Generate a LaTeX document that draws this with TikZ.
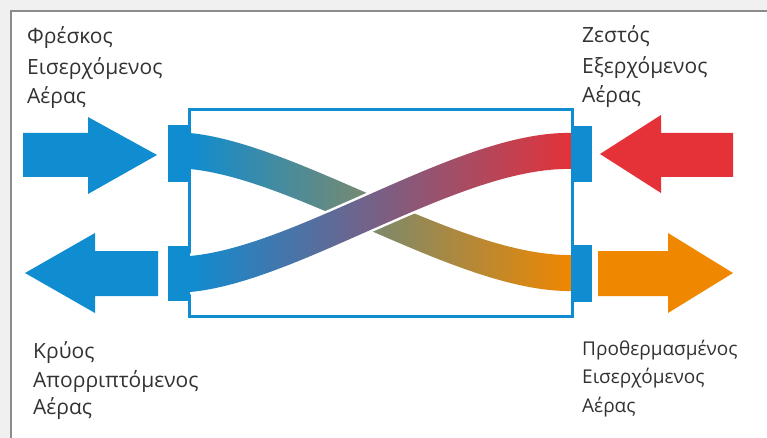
\documentclass[tikz,border=0pt]{standalone}
\usepackage{fontspec}
\setmainfont{Open Sans}
\definecolor{flowblue}{RGB}{16,140,208}
\definecolor{flowred}{RGB}{228,50,56}
\definecolor{floworange}{RGB}{240,135,0}
\definecolor{txtgray}{RGB}{50,50,50}
\definecolor{bggray}{RGB}{240,240,240}
\definecolor{framegray}{RGB}{140,140,140}
\begin{document}
\begin{tikzpicture}[x=1pt,y=-1pt,
  lbl/.style={anchor=base west, inner sep=0pt, font=\fontsize{21}{25}\selectfont, text=txtgray},
  lblsmall/.style={lbl, font=\fontsize{19}{23}\selectfont},
  tab/.style={fill=flowblue},
  gap/.style={draw=white, line width=5pt}]
\useasboundingbox (0,0) rectangle (767,438);
% background and frame
\fill[bggray] (0,0) rectangle (767,438);
\fill[white] (11,11) rectangle (767,438);
\draw[framegray, line width=2pt] (767,11) -- (11,11) -- (11,438);
% exchanger box
\draw[flowblue, line width=3pt] (189,110) rectangle (572,316);
% band 1 : top-left (blue) to bottom-right (orange)
\shade[left color=flowblue, right color=floworange]
  (190,133) .. controls (300,144) and (460,257) .. (572,255)
  -- (572,291) .. controls (460,293) and (300,180) .. (190,169) -- cycle;
% gap around band 2
\draw[gap] (190,256) .. controls (300,246) and (460,130) .. (572,133);
\draw[gap] (190,292) .. controls (300,282) and (460,166) .. (572,169);
% band 2 : bottom-left (blue) to top-right (red)
\shade[left color=flowblue, right color=flowred]
  (190,256) .. controls (300,246) and (460,130) .. (572,133)
  -- (572,169) .. controls (460,166) and (300,282) .. (190,292) -- cycle;
% tabs
\fill[tab] (168,125) rectangle (190,182);
\fill[tab] (168,246) rectangle (190,301);
\fill[tab] (571,126) rectangle (592,182);
\fill[tab] (571,245) rectangle (592,302);
% arrows
\fill[flowblue] (23,133) -- (88,133) -- (88,117) -- (157,155) -- (88,194) -- (88,177) -- (23,177) -- cycle;
\fill[flowblue] (158,251) -- (95,251) -- (95,233) -- (25,273) -- (95,313) -- (95,296) -- (158,296) -- cycle;
\fill[flowred] (733,133) -- (661,133) -- (661,115) -- (600,154) -- (661,193) -- (661,177) -- (733,177) -- cycle;
\fill[floworange] (598,251) -- (668,251) -- (668,233) -- (733,273) -- (668,313) -- (668,296) -- (598,296) -- cycle;
% labels
\node[lbl] (fa) at (27,44) {Φρέσκος};
\node[lbl] (fb) at (27,75) {Εισερχόμενος};
\node[lbl] (fc) at (27,104) {Αέρας};
\node[lbl] (za) at (582,43) {Ζεστός};
\node[lbl] (zb) at (582,74) {Εξερχόμενος};
\node[lbl] (zc) at (582,103) {Αέρας};
\node[lbl] (ka) at (33,358) {Κρύος};
\node[lbl] (kb) at (33,387) {Απορριπτόμενος};
\node[lbl] (kc) at (33,414) {Αέρας};
\node[lblsmall] (pa) at (582,355) {Προθερμασμένος};
\node[lblsmall] (pb) at (582,383) {Εισερχόμενος};
\node[lblsmall] (pc) at (582,412) {Αέρας};
\end{tikzpicture}
\end{document}
